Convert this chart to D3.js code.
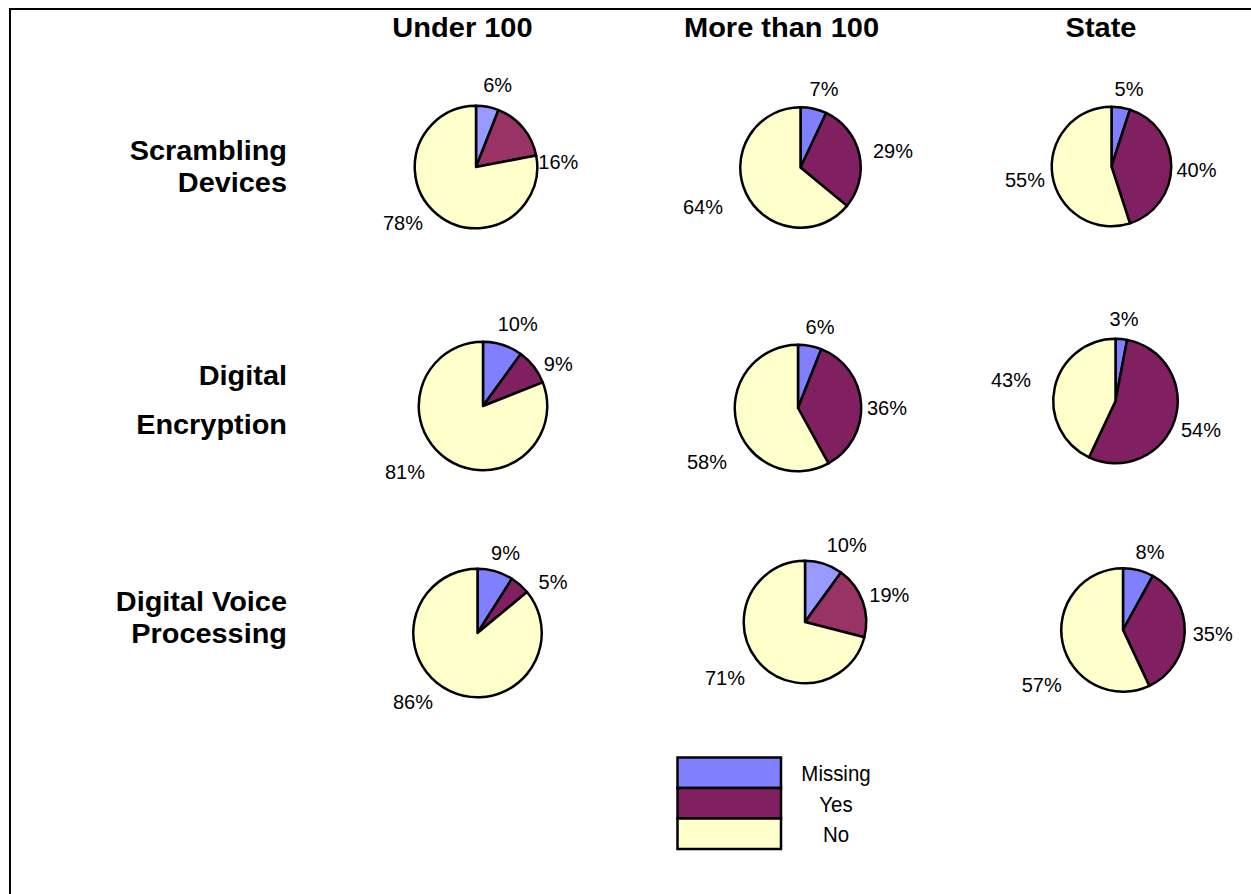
<!DOCTYPE html>
<html><head><meta charset="utf-8">
<script src="https://cdn.jsdelivr.net/npm/d3@7"></script>
<style>html,body{margin:0;padding:0;background:#fff;overflow:hidden;} svg{display:block;font-family:Arial,"Liberation Sans",sans-serif;}</style>
</head><body><svg id="c" width="1251" height="894"></svg>
<script>
// ---- data ----
const columns = ["Under 100", "More than 100", "State"];
const rowKeys = ["Scrambling Devices", "Digital Encryption", "Digital Voice Processing"];
const rowLabelLines = [["Scrambling", "Devices"], ["Digital", "Encryption"], ["Digital Voice", "Processing"]];
const seriesNames = ["Missing", "Yes", "No"];
const missingPct = [[6, 7, 5], [10, 6, 3], [9, 10, 8]];
const yesPct = [[16, 29, 40], [9, 36, 54], [5, 19, 35]];
const noPct = [[78, 64, 55], [81, 58, 43], [86, 71, 57]];

// ---- layout / style ----
const palettes = [["#8080FF", "#802060", "#FFFFCC"], ["#9999FF", "#993366", "#FFFFCC"]];
const paletteIdx = [[1, 0, 0], [0, 0, 0], [0, 1, 0]];
const pieNudge = [ // dx, dy, outer radius
  [[-2, 0, 62.5], [-0.5, 0.5, 61.5], [-5.5, -0.5, 61]],
  [[5, 1, 65.5], [-3, 3, 64.5], [-1.5, -4, 63.5]],
  [[-0.5, 5, 65.5], [4, -6, 62.5], [6, 2, 63]]
];
const labelOffsets = [ // per pie: [missing, yes, no] label centre relative to pie centre
  [[[21.7, -82], [82.3, -5.3], [-73, 56]], [[23.5, -78.5], [92.5, -16.5], [-97.5, 39.5]], [[17.5, -78], [85, 3], [-86.5, 13.5]]],
  [[[34.7, -82.7], [75.3, -42.7], [-78, 65.7]], [[22, -81], [89, 0], [-91, 54]], [[8.5, -82.7], [85.5, 28.3], [-104.5, -21]]],
  [[[28, -80], [75.5, -51.3], [-64.5, 68.7]], [[41.7, -77], [84.3, -27.7], [-80, 55.7]], [[27, -78.3], [89.7, 3.3], [-81.3, 55]]]
];
const rowLabelDy = [[-7.5, 24.5], [-20, 29], [-17, 15]];
const titleDx = [-15.5, -19.5, -16];
const strokeW = 2.5;

const svg = d3.select("#c");
svg.append("rect").attr("width", 1251).attr("height", 894).attr("fill", "#fff");
svg.append("rect").attr("x", 10).attr("y", 9).attr("width", 1400).attr("height", 1000)
  .attr("fill", "none").attr("stroke", "#000").attr("stroke-width", 2);

const colX = d3.scaleOrdinal(columns, [478, 801, 1117]);
const rowY = d3.scaleOrdinal(rowKeys, [167, 405, 628]);

// column titles
svg.selectAll("text.title").data(columns).join("text").attr("class", "title")
  .attr("transform", (d, i) => `translate(${colX(d) + titleDx[i]},36.5) scale(1.075,1)`)
  .attr("text-anchor", "middle").attr("font-size", 27).attr("font-weight", "bold")
  .text(d => d);

// row labels
rowKeys.forEach((rk, ri) => {
  rowLabelLines[ri].forEach((line, li) => {
    svg.append("text")
      .attr("transform", `translate(287,${rowY(rk) + rowLabelDy[ri][li]}) scale(1.07,1)`)
      .attr("text-anchor", "end").attr("font-size", 27).attr("font-weight", "bold")
      .text(line);
  });
});

const pie = d3.pie().sort(null).value(d => d.v);
rowKeys.forEach((rk, ri) => {
  columns.forEach((ck, ci) => {
    const vals = [missingPct[ri][ci], yesPct[ri][ci], noPct[ri][ci]].map((v, k) => ({ v, k, name: seriesNames[k] }));
    const [ndx, ndy, rOuter] = pieNudge[ri][ci];
    const cx = colX(ck) + ndx, cy = rowY(rk) + ndy;
    const r = rOuter - strokeW / 2;
    const arc = d3.arc().innerRadius(0).outerRadius(r);
    const pal = palettes[paletteIdx[ri][ci]];
    const g = svg.append("g").attr("transform", `translate(${cx},${cy})`);
    g.selectAll("path").data(pie(vals)).join("path")
      .attr("d", arc).attr("fill", d => pal[d.data.k])
      .attr("stroke", "#000").attr("stroke-width", strokeW).attr("stroke-linejoin", "round");
    g.selectAll("text").data(pie(vals)).join("text")
      .attr("x", d => labelOffsets[ri][ci][d.data.k][0])
      .attr("y", d => labelOffsets[ri][ci][d.data.k][1])
      .attr("dy", "0.36em").attr("text-anchor", "middle").attr("font-size", 20)
      .text(d => d.data.v + "%");
  });
});

// legend
const legY = d3.scaleBand().domain(seriesNames).range([757.5, 849]);
const leg = svg.append("g");
leg.selectAll("rect").data(seriesNames).join("rect")
  .attr("x", 677.5).attr("width", 103.5)
  .attr("y", d => legY(d)).attr("height", legY.bandwidth())
  .attr("fill", (d, i) => palettes[0][i]).attr("stroke", "#000").attr("stroke-width", strokeW);
leg.selectAll("text").data(seriesNames).join("text")
  .attr("transform", d => `translate(836,${legY(d) + legY.bandwidth() / 2 + 8.5}) scale(0.93,1)`)
  .attr("text-anchor", "middle").attr("font-size", 22)
  .text(d => d);
</script></body></html>
